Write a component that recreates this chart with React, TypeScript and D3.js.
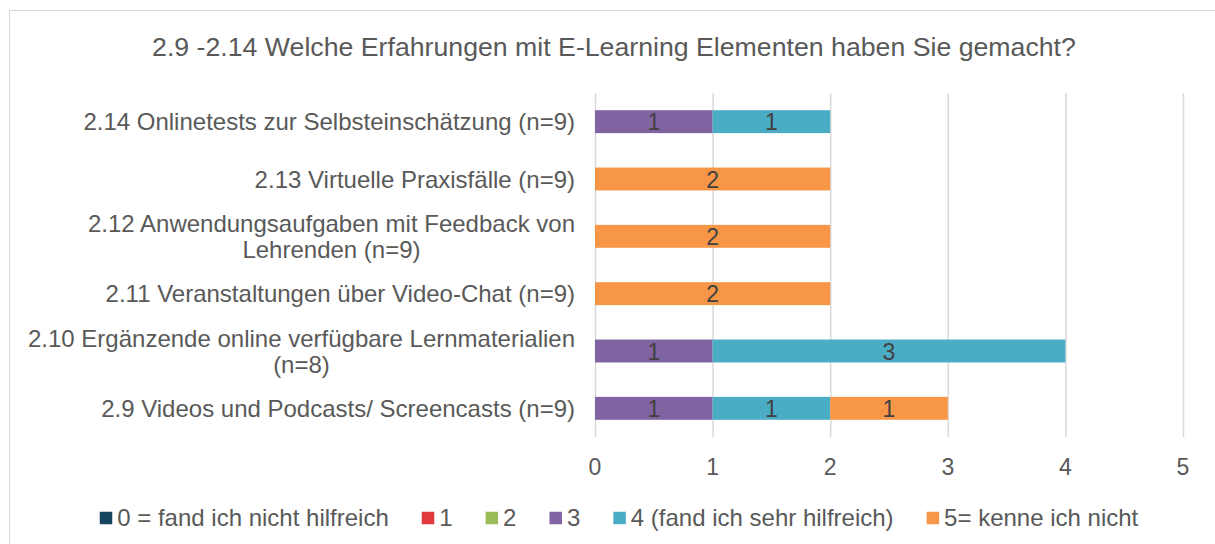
import { useEffect, useRef } from 'react';
import * as d3 from 'd3';

const WIDTH = 1215;
const HEIGHT = 544;
const PLOT = { left: 595, right: 1183, top: 93, bottom: 437 };

const title = '2.9 -2.14 Welche Erfahrungen mit E-Learning Elementen haben Sie gemacht?';

// top to bottom, as drawn
const categories = [
    '2.14 Onlinetests zur Selbsteinschätzung (n=9)',
    '2.13 Virtuelle Praxisfälle (n=9)',
    '2.12 Anwendungsaufgaben mit Feedback von\nLehrenden (n=9)',
    '2.11 Veranstaltungen über Video-Chat (n=9)',
    '2.10 Ergänzende online verfügbare Lernmaterialien\n(n=8)',
    '2.9 Videos und Podcasts/ Screencasts (n=9)',
];

const seriesNames = [
    '0 = fand ich nicht hilfreich',
    '1',
    '2',
    '3',
    '4 (fand ich sehr hilfreich)',
    '5= kenne ich nicht',
];
const seriesColors = ['#17445E', '#E0393E', '#9BBB59', '#8064A2', '#4BACC6', '#F79646'];

const score0 = [0, 0, 0, 0, 0, 0];
const score1 = [0, 0, 0, 0, 0, 0];
const score2 = [0, 0, 0, 0, 0, 0];
const score3 = [1, 0, 0, 0, 1, 1];
const score4 = [1, 0, 0, 0, 3, 1];
const score5 = [0, 2, 2, 2, 0, 1];

const ticks = [0, 1, 2, 3, 4, 5];

const FONT = 'Liberation Sans, Arial, sans-serif';
const TEXT = '#595959';

const App = () => {
    const ref = useRef(null);

    useEffect(() => {
        document.body.style.margin = '0';
        const svg = d3.select(ref.current);
        svg.selectAll('*').remove();

        const xScale = d3.scaleLinear().domain([0, 5]).range([PLOT.left, PLOT.right]);
        const yScale = d3
            .scaleBand()
            .domain(categories)
            .range([PLOT.top, PLOT.bottom])
            .paddingInner(0.6)
            .paddingOuter(0.3);

        svg.append('rect')
            .attr('width', WIDTH)
            .attr('height', HEIGHT)
            .attr('fill', '#fff');
        svg.append('rect')
            .attr('x', 9.5)
            .attr('y', 10.5)
            .attr('width', WIDTH)
            .attr('height', HEIGHT)
            .attr('fill', 'none')
            .attr('stroke', '#D9D9D9');

        svg.append('text')
            .attr('x', 614)
            .attr('y', 56)
            .attr('text-anchor', 'middle')
            .attr('font-family', FONT)
            .attr('font-size', 26.7)
            .attr('fill', TEXT)
            .text(title);

        // gridlines
        svg.append('g')
            .selectAll('line')
            .data(ticks)
            .join('line')
            .attr('x1', (d) => xScale(d) + 0.5)
            .attr('x2', (d) => xScale(d) + 0.5)
            .attr('y1', PLOT.top)
            .attr('y2', PLOT.bottom)
            .attr('stroke', '#D9D9D9')
            .attr('stroke-width', 1.5);

        svg.append('g')
            .selectAll('text')
            .data(ticks)
            .join('text')
            .attr('x', (d) => xScale(d))
            .attr('y', 475)
            .attr('text-anchor', 'middle')
            .attr('font-family', FONT)
            .attr('font-size', 23)
            .attr('fill', TEXT)
            .text((d) => d);

        // stacked bars
        const rows = categories.map((c, i) => ({
            cat: c,
            s0: score0[i],
            s1: score1[i],
            s2: score2[i],
            s3: score3[i],
            s4: score4[i],
            s5: score5[i],
        }));
        const keys = ['s0', 's1', 's2', 's3', 's4', 's5'];
        const stacked = d3.stack().keys(keys)(rows);

        stacked.forEach((layer, k) => {
            const g = svg.append('g');
            const items = layer.filter((d) => d[1] - d[0] > 0);
            g.selectAll('rect')
                .data(items)
                .join('rect')
                .attr('x', (d) => xScale(d[0]))
                .attr('y', (d) => yScale(d.data.cat))
                .attr('width', (d) => xScale(d[1]) - xScale(d[0]))
                .attr('height', yScale.bandwidth())
                .attr('fill', seriesColors[k]);
            g.selectAll('text')
                .data(items)
                .join('text')
                .attr('x', (d) => (xScale(d[0]) + xScale(d[1])) / 2)
                .attr('y', (d) => yScale(d.data.cat) + yScale.bandwidth() / 2 + 8.5)
                .attr('text-anchor', 'middle')
                .attr('font-family', FONT)
                .attr('font-size', 23)
                .attr('fill', '#404040')
                .text((d) => d[1] - d[0]);
        });

        // category labels, block right-aligned, lines centered
        const labelRight = 575;
        const lineH = 26;
        categories.forEach((c) => {
            const lines = c.split('\n');
            const g = svg.append('g');
            const texts = lines.map((line, j) =>
                g.append('text')
                    .attr('font-family', FONT)
                    .attr('font-size', 24)
                    .attr('fill', TEXT)
                    .attr('text-anchor', 'middle')
                    .attr('y', yScale(c) + yScale.bandwidth() / 2 + 8.5 + (j - (lines.length - 1) / 2) * lineH)
                    .text(line)
            );
            const maxW = d3.max(texts, (t) => t.node().getComputedTextLength());
            texts.forEach((t) => t.attr('x', labelRight - maxW / 2));
        });

        // legend
        const legend = svg.append('g');
        const swatch = 12.5;
        const gapText = 5;
        const gapItem = 33;
        let x = 0;
        seriesNames.forEach((name, k) => {
            legend.append('rect')
                .attr('x', x)
                .attr('y', 518 - swatch / 2)
                .attr('width', swatch)
                .attr('height', swatch)
                .attr('fill', seriesColors[k]);
            const t = legend.append('text')
                .attr('x', x + swatch + gapText)
                .attr('y', 526)
                .attr('font-family', FONT)
                .attr('font-size', 24)
                .attr('fill', TEXT)
                .text(name);
            x += swatch + gapText + t.node().getComputedTextLength() + gapItem;
        });
        const total = x - gapItem;
        legend.attr('transform', `translate(${619 - total / 2},0)`);
    }, []);

    return <svg ref={ref} width={WIDTH} height={HEIGHT} style={{ display: 'block' }} />;
};

export default App;
